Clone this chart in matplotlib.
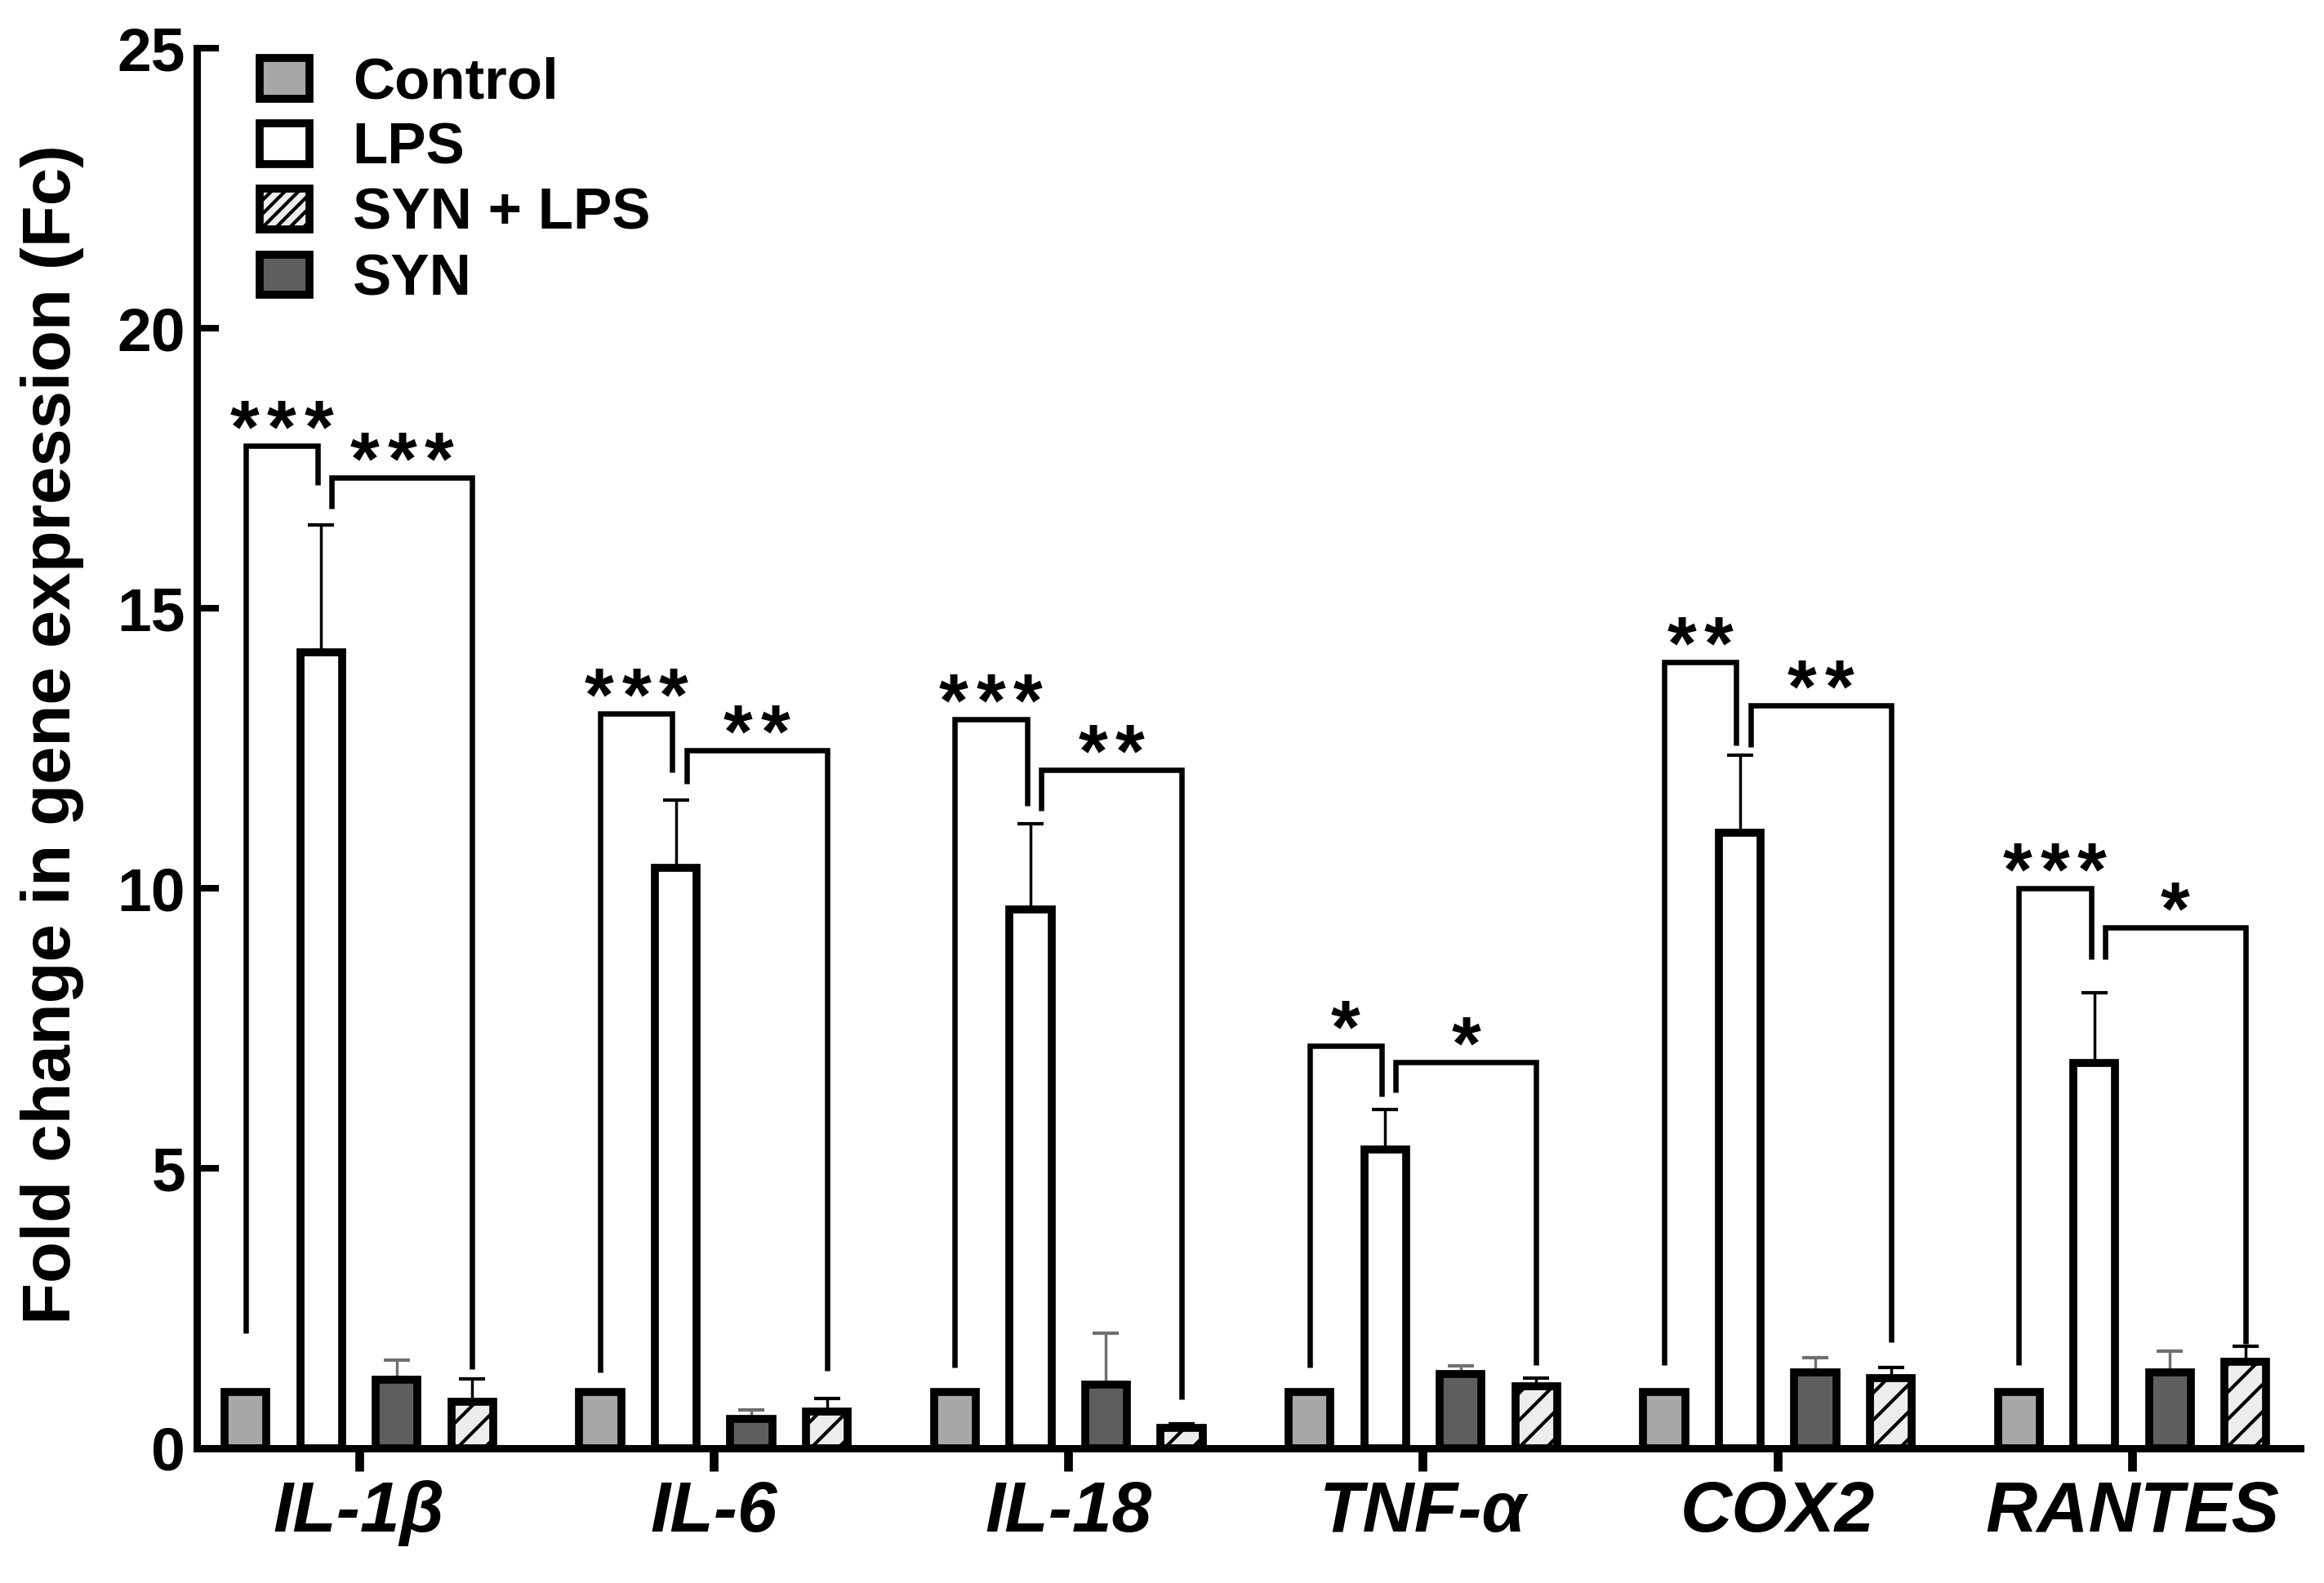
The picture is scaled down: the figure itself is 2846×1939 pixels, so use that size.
import numpy as np
import matplotlib.pyplot as plt
from matplotlib.patches import Patch

plt.rcParams['font.family'] = ['Liberation Sans', 'DejaVu Sans']
plt.rcParams['hatch.linewidth'] = 3.0

# data
genes = ['IL-1β', 'IL-6', 'IL-18', 'TNF-α', 'COX2', 'RANTES']
control = [1.0, 1.0, 1.0, 1.0, 1.0, 1.0]
lps = [14.21, 10.37, 9.63, 5.34, 11.0, 6.88]
lps_err = [2.28, 1.20, 1.53, 0.71, 1.38, 1.25]
syn = [1.22, 0.52, 1.14, 1.32, 1.35, 1.35]
syn_err = [0.36, 0.16, 0.91, 0.15, 0.27, 0.39]
syn_lps = [0.83, 0.66, 0.36, 1.11, 1.25, 1.55]
syn_lps_err = [0.41, 0.23, 0.08, 0.14, 0.20, 0.27]

# significance brackets: Control vs LPS (b1), LPS vs SYN + LPS (b2)
b1_top = [17.9, 13.12, 13.02, 7.19, 14.04, 10.0]
b1_left_end = [2.05, 1.35, 1.44, 1.44, 1.49, 1.49]
b1_right_end = [17.2, 12.07, 11.48, 6.29, 12.55, 8.74]
b1_stars = ['***', '***', '***', '*', '**', '***']
b2_top = [17.34, 12.46, 12.12, 6.9, 13.27, 9.3]
b2_left_end = [16.78, 11.87, 11.38, 6.35, 12.53, 8.74]
b2_right_end = [1.42, 1.38, 0.87, 1.49, 1.9, 1.87]
b2_stars = ['***', '**', '**', '*', '**', '*']

c_control = '#a7a7a9'
c_syn = '#5e5e5e'
c_hatch = '#ededed'
edge_lw = 7

x = np.arange(len(genes))
step = 0.213
width = 0.118
off_c, off_l, off_s, off_sl = -1.5 * step, -0.5 * step, 0.5 * step, 1.5 * step

fig = plt.figure(figsize=(28.46, 19.39), dpi=100)
ax = fig.add_axes([0.0847, 0.0851, 0.9051, 0.8843])

ax.bar(x + off_c, control, width, color=c_control, edgecolor='black', linewidth=edge_lw, zorder=3)
ax.bar(x + off_l, lps, width, color='white', edgecolor='black', linewidth=edge_lw, zorder=3)
ax.bar(x + off_s, syn, width, color=c_syn, edgecolor='black', linewidth=edge_lw, zorder=3)
ax.bar(x + off_sl, syn_lps, width, color=c_hatch, edgecolor='black', hatch='/', linewidth=edge_lw, zorder=3)

zeros = np.zeros(len(genes))
ax.errorbar(x + off_l, lps, yerr=[zeros, lps_err], fmt='none', ecolor='black', elinewidth=2.5, capsize=11.5, capthick=3, zorder=2)
ax.errorbar(x + off_s, syn, yerr=[zeros, syn_err], fmt='none', ecolor='#707070', elinewidth=2.5, capsize=11.5, capthick=3, zorder=2)
ax.errorbar(x + off_sl, syn_lps, yerr=[zeros, syn_lps_err], fmt='none', ecolor='black', elinewidth=2.5, capsize=11.5, capthick=3, zorder=2)


def stars(xc, y, s):
    for k, ch in enumerate(s):
        ax.annotate(ch, (xc, y), xytext=((k - (len(s) - 1) / 2) * 32.8, -6), textcoords='offset points',
                    ha='center', va='baseline', fontsize=66, fontweight='bold', zorder=5)


for i in range(len(genes)):
    xl = x[i] + off_c
    xr = x[i] + off_l - 0.01
    ax.plot([xl, xl, xr, xr], [b1_left_end[i], b1_top[i], b1_top[i], b1_right_end[i]], color='black', lw=4.7,
            solid_joinstyle='miter', solid_capstyle='butt', zorder=4)
    stars((xl + xr) / 2, b1_top[i], b1_stars[i])
    xl = x[i] + off_l + 0.03
    xr = x[i] + off_sl
    ax.plot([xl, xl, xr, xr], [b2_left_end[i], b2_top[i], b2_top[i], b2_right_end[i]], color='black', lw=4.7,
            solid_joinstyle='miter', solid_capstyle='butt', zorder=4)
    stars((xl + xr) / 2, b2_top[i], b2_stars[i])

handles = [Patch(facecolor=c_control, edgecolor='black', linewidth=edge_lw, label='Control'),
           Patch(facecolor='white', edgecolor='black', linewidth=edge_lw, label='LPS'),
           Patch(facecolor=c_hatch, edgecolor='black', linewidth=edge_lw, hatch='//', label='SYN + LPS'),
           Patch(facecolor=c_syn, edgecolor='black', linewidth=edge_lw, label='SYN')]
ax.legend(handles=handles, loc='upper left', bbox_to_anchor=(0.03, 0.994), frameon=False,
          prop={'weight': 'bold', 'size': 51}, handlelength=0.85, handleheight=0.7,
          handletextpad=0.75, labelspacing=0.2, borderaxespad=0, borderpad=0)

ax.set_xlim(-0.457, 5.474)
ax.set_ylim(0, 25)
ax.set_yticks([0, 5, 10, 15, 20, 25])
ax.set_xticks(x)
ax.set_xticklabels(genes, fontsize=63, fontweight='bold', fontstyle='italic')
ax.tick_params(axis='y', direction='in', length=19.5, width=5.8, pad=10, labelsize=54)
ax.tick_params(axis='x', direction='out', length=20, width=7.7, pad=8)
for lab in ax.get_yticklabels():
    lab.set_fontweight('bold')

for side in ['top', 'right']:
    ax.spines[side].set_visible(False)
for side in ['left', 'bottom']:
    ax.spines[side].set_linewidth(6.5)

ax.set_ylabel('Fold change in gene expression (Fc)', fontsize=60, fontweight='bold', va='center')
ax.yaxis.set_label_coords(-0.0687, 0.51)

fig.savefig('out.png', dpi=100)
